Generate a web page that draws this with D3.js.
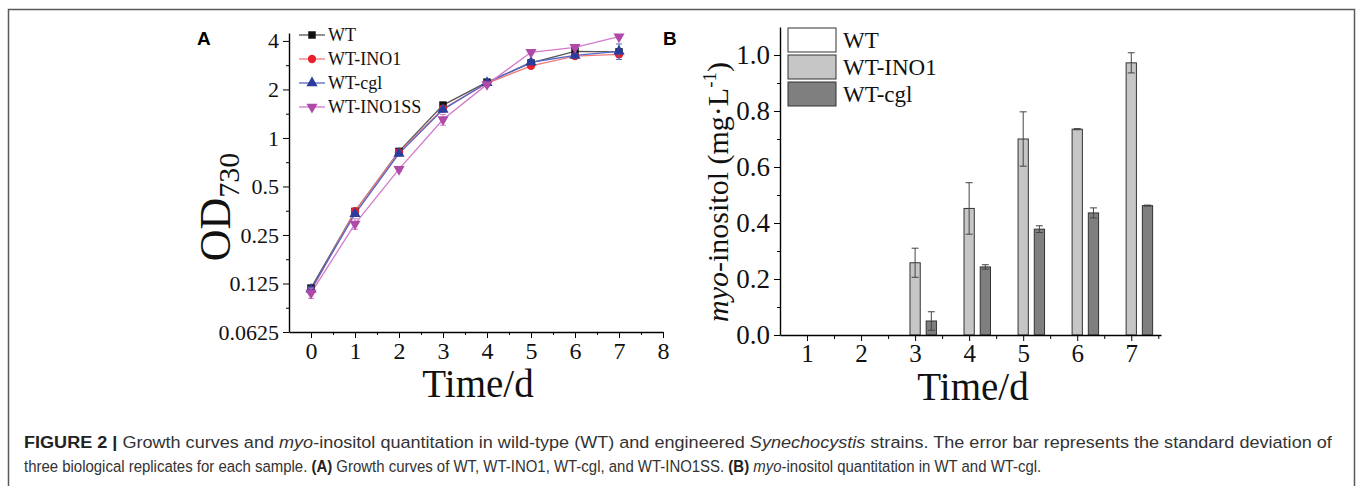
<!DOCTYPE html>
<html>
<head>
<meta charset="utf-8">
<script src="https://cdn.jsdelivr.net/npm/d3@7"></script>
<style>
  body { margin: 0; background: #fff; }
  svg text { font-family: "Liberation Serif", "Times New Roman", serif; }
</style>
</head>
<body>
<div id="plot"></div>
<script>
// figure size
const w = 1357;
const h = 486;

// ---- panel A data (OD730 growth curves) ----
const days = [0, 1, 2, 3, 4, 5, 6, 7];
const odWT = [0.117, 0.350, 0.825, 1.60, 2.22, 2.92, 3.45, 3.42];
const odINO1 = [0.112, 0.352, 0.815, 1.52, 2.18, 2.80, 3.22, 3.30];
const odCgl = [0.115, 0.338, 0.800, 1.50, 2.20, 2.95, 3.25, 3.45];
const odINO1SS = [0.109, 0.293, 0.640, 1.30, 2.15, 3.40, 3.65, 4.25];
const errWT = [0.004, 0.01, 0.02, 0.04, 0.04, 0.05, 0.05, 0.08];
const errINO1 = [0.005, 0.01, 0.02, 0.04, 0.04, 0.05, 0.05, 0.08];
const errCgl = [0.004, 0.01, 0.02, 0.04, 0.04, 0.05, 0.05, 0.38];
const errINO1SS = [0.008, 0.022, 0.02, 0.10, 0.05, 0.08, 0.08, 0.08];
const seriesA = ["WT", "WT-INO1", "WT-cgl", "WT-INO1SS"];
const odTicks = [0.0625, 0.125, 0.25, 0.5, 1, 2, 4];
const odTickLabels = ["0.0625", "0.125", "0.25", "0.5", "1", "2", "4"];
const dayTicks = [0, 1, 2, 3, 4, 5, 6, 7, 8];

// ---- panel B data (myo-inositol, mg/L) ----
const daysB = [1, 2, 3, 4, 5, 6, 7];
const inoWT = [0, 0, 0, 0, 0, 0, 0];
const inoINO1 = [0, 0, 0.258, 0.452, 0.700, 0.735, 0.972];
const inoCgl = [0, 0, 0.050, 0.243, 0.378, 0.436, 0.462];
const errInoWT = [0, 0, 0, 0, 0, 0, 0];
const errInoINO1 = [0, 0, 0.052, 0.092, 0.097, 0.002, 0.036];
const errInoCgl = [0, 0, 0.033, 0.008, 0.012, 0.018, 0.002];
const seriesB = ["WT", "WT-INO1", "WT-cgl"];
const inoTicks = [0, 0.2, 0.4, 0.6, 0.8, 1.0];

const svg = d3.select("#plot")
  .append("svg")
    .attr("width", w)
    .attr("height", h);

// outer frame
svg.append("rect")
    .attr("x", 8.5).attr("y", 9.5)
    .attr("width", 1346).attr("height", 520)
    .attr("fill", "none")
    .attr("stroke", "#5a5a5a")
    .attr("stroke-width", 1.5);

// ================= panel A =================
const xA = d3.scaleLinear().domain([-0.5, 8]).range([289, 663]);
const yA = d3.scaleLog().base(2).domain([0.0625, 4.48]).range([332, 33]);

const gA = svg.append("g");

// axes
const yAxisA = d3.axisLeft(yA)
    .tickValues(odTicks)
    .tickFormat((d, i) => odTickLabels[i])
    .tickSize(6).tickSizeOuter(0).tickPadding(4);
gA.append("g")
    .attr("transform", `translate(${xA(-0.5)},0)`)
    .call(yAxisA)
    .call(g => g.select(".domain").attr("stroke-width", 1.4))
    .call(g => g.selectAll("text").attr("font-size", 22).attr("fill", "#111"));
gA.append("g")
    .attr("transform", `translate(${xA(-0.5)},0)`)
    .call(d3.axisLeft(yA)
      .tickValues(odTicks.slice(0, -1).map(d => d * Math.SQRT2))
      .tickFormat("").tickSize(3).tickSizeOuter(0))
    .call(g => g.select(".domain").remove());

const xAxisA = d3.axisBottom(xA)
    .tickValues(dayTicks)
    .tickFormat(d3.format("d"))
    .tickSize(6).tickSizeOuter(0).tickPadding(4);
gA.append("g")
    .attr("transform", `translate(0,${yA(0.0625)})`)
    .call(xAxisA)
    .call(g => g.select(".domain").attr("stroke-width", 1.4))
    .call(g => g.selectAll("text").attr("font-size", 24).attr("fill", "#111"));
gA.append("g")
    .attr("transform", `translate(0,${yA(0.0625)})`)
    .call(d3.axisBottom(xA)
      .tickValues(d3.range(0.5, 8, 1))
      .tickFormat("").tickSize(3).tickSizeOuter(0))
    .call(g => g.select(".domain").remove());

// axis titles
const odLab = gA.append("text")
    .attr("transform", `translate(230,207) rotate(-90)`)
    .attr("text-anchor", "middle")
    .attr("font-size", 44)
    .attr("fill", "#111");
odLab.append("tspan").text("OD");
odLab.append("tspan").attr("font-size", 30).attr("dy", 9).text("730");

gA.append("text")
    .attr("x", 478).attr("y", 397)
    .attr("text-anchor", "middle")
    .attr("font-size", 39)
    .attr("fill", "#111")
    .text("Time/d");

gA.append("text")
    .attr("x", 197).attr("y", 45)
    .style("font-family", "Liberation Sans, Arial, sans-serif")
    .attr("font-weight", "bold")
    .attr("font-size", 19)
    .text("A");

// series
const styleA = {
  "WT": {line: "#555555", mark: "#111111", sym: d3.symbolSquare, size: 56, vals: odWT, err: errWT},
  "WT-INO1": {line: "#f07a7a", mark: "#e8202a", sym: d3.symbolCircle, size: 54, vals: odINO1, err: errINO1},
  "WT-cgl": {line: "#5566c8", mark: "#2a3d9e", sym: d3.symbolTriangle, size: 54, vals: odCgl, err: errCgl},
  "WT-INO1SS": {line: "#d27acb", mark: "#b04aa8", sym: d3.symbolTriangle, size: 54, flip: true, vals: odINO1SS, err: errINO1SS}
};

const lineA = d3.line().x((d, i) => xA(days[i])).y(d => yA(d));

seriesA.forEach(name => {
  const s = styleA[name];
  gA.append("path")
      .datum(s.vals)
      .attr("fill", "none")
      .attr("stroke", s.line)
      .attr("stroke-width", 1.3)
      .attr("d", lineA);
});

seriesA.forEach(name => {
  const s = styleA[name];
  const g = gA.append("g");
  // error bars
  const eb = g.selectAll("g.eb")
    .data(s.vals.map((v, i) => ({x: days[i], v: v, e: s.err[i]})))
    .enter().append("g")
      .attr("stroke", s.line)
      .attr("stroke-width", 1);
  eb.append("line")
      .attr("x1", d => xA(d.x)).attr("x2", d => xA(d.x))
      .attr("y1", d => yA(d.v + d.e)).attr("y2", d => yA(d.v - d.e));
  eb.append("line")
      .attr("x1", d => xA(d.x) - 3).attr("x2", d => xA(d.x) + 3)
      .attr("y1", d => yA(d.v + d.e)).attr("y2", d => yA(d.v + d.e));
  eb.append("line")
      .attr("x1", d => xA(d.x) - 3).attr("x2", d => xA(d.x) + 3)
      .attr("y1", d => yA(d.v - d.e)).attr("y2", d => yA(d.v - d.e));
  // markers
  g.selectAll("path.m")
    .data(s.vals)
    .enter().append("path")
      .attr("d", d3.symbol().type(s.sym).size(s.size))
      .attr("transform", (d, i) => `translate(${xA(days[i])},${yA(d)})${s.flip ? " rotate(180)" : ""}`)
      .attr("fill", s.mark);
});

// legend A
const legA = gA.append("g");
seriesA.forEach((name, i) => {
  const s = styleA[name];
  const yy = 35 + i * 24;
  legA.append("line")
      .attr("x1", 299).attr("x2", 325)
      .attr("y1", yy).attr("y2", yy)
      .attr("stroke", s.line).attr("stroke-width", 1.3);
  legA.append("path")
      .attr("d", d3.symbol().type(s.sym).size(s.size)())
      .attr("transform", `translate(312,${yy})${s.flip ? " rotate(180)" : ""}`)
      .attr("fill", s.mark);
  legA.append("text")
      .attr("x", 328).attr("y", yy + 6)
      .attr("font-size", 18)
      .attr("fill", "#111")
      .text(name);
});

// ================= panel B =================
const xB = d3.scaleLinear().domain([0.5, 7.55]).range([780, 1161]);
const yB = d3.scaleLinear().domain([0, 1.1]).range([335, 27]);
const gB = svg.append("g");

const fillB = {"WT": "#ffffff", "WT-INO1": "#c6c6c6", "WT-cgl": "#7f7f7f"};
const offB = {"WT": -0.3, "WT-INO1": 0, "WT-cgl": 0.3};
const valsB = {"WT": inoWT, "WT-INO1": inoINO1, "WT-cgl": inoCgl};
const errB = {"WT": errInoWT, "WT-INO1": errInoINO1, "WT-cgl": errInoCgl};
const bw = xB(0.69) - xB(0.5);

seriesB.forEach(name => {
  const data = valsB[name].map((v, i) => ({x: daysB[i] + offB[name], v: v, e: errB[name][i]}));
  gB.selectAll(null)
    .data(data)
    .enter().append("rect")
      .attr("x", d => xB(d.x) - bw / 2)
      .attr("y", d => yB(d.v))
      .attr("width", bw)
      .attr("height", d => yB(0) - yB(d.v))
      .attr("fill", fillB[name])
      .attr("stroke", "#333")
      .attr("stroke-width", 1);
  const eb = gB.selectAll(null)
    .data(data.filter(d => d.e > 0))
    .enter().append("g")
      .attr("stroke", "#444")
      .attr("stroke-width", 1);
  eb.append("line")
      .attr("x1", d => xB(d.x)).attr("x2", d => xB(d.x))
      .attr("y1", d => yB(d.v + d.e)).attr("y2", d => yB(Math.max(0, d.v - d.e)));
  eb.append("line")
      .attr("x1", d => xB(d.x) - 3.5).attr("x2", d => xB(d.x) + 3.5)
      .attr("y1", d => yB(d.v + d.e)).attr("y2", d => yB(d.v + d.e));
  eb.append("line")
      .attr("x1", d => xB(d.x) - 3.5).attr("x2", d => xB(d.x) + 3.5)
      .attr("y1", d => yB(Math.max(0, d.v - d.e))).attr("y2", d => yB(Math.max(0, d.v - d.e)));
});

// axes B
gB.append("g")
    .attr("transform", `translate(${xB(0.5)},0)`)
    .call(d3.axisLeft(yB).tickValues(inoTicks).tickFormat(d3.format(".1f"))
      .tickSize(6).tickSizeOuter(0).tickPadding(4))
    .call(g => g.select(".domain").attr("stroke-width", 1.4))
    .call(g => g.selectAll("text").attr("font-size", 27).attr("fill", "#111"));
gB.append("g")
    .attr("transform", `translate(${xB(0.5)},0)`)
    .call(d3.axisLeft(yB).tickValues(d3.range(0.1, 1.1, 0.2))
      .tickFormat("").tickSize(3).tickSizeOuter(0))
    .call(g => g.select(".domain").remove());
gB.append("g")
    .attr("transform", `translate(0,${yB(0)})`)
    .call(d3.axisBottom(xB).tickValues(daysB).tickFormat(d3.format("d"))
      .tickSize(6).tickSizeOuter(0).tickPadding(3))
    .call(g => g.select(".domain").attr("stroke-width", 1.4))
    .call(g => g.selectAll("text").attr("font-size", 25).attr("fill", "#111"));
gB.append("g")
    .attr("transform", `translate(0,${yB(0)})`)
    .call(d3.axisBottom(xB).tickValues(d3.range(1.5, 8, 1))
      .tickFormat("").tickSize(4).tickSizeOuter(0))
    .call(g => g.select(".domain").remove());

const inoLab = gB.append("text")
    .attr("transform", `translate(728,192) rotate(-90)`)
    .attr("text-anchor", "middle")
    .attr("font-size", 30)
    .attr("fill", "#111");
inoLab.append("tspan").attr("font-style", "italic").text("myo");
inoLab.append("tspan").text("-inositol (mg\u00b7L");
inoLab.append("tspan").attr("font-size", 19).attr("dy", -12).text("-1");
inoLab.append("tspan").attr("dy", 12).text(")");

gB.append("text")
    .attr("x", 973).attr("y", 400)
    .attr("text-anchor", "middle")
    .attr("font-size", 39)
    .attr("fill", "#111")
    .text("Time/d");

gB.append("text")
    .attr("x", 663).attr("y", 45)
    .style("font-family", "Liberation Sans, Arial, sans-serif")
    .attr("font-weight", "bold")
    .attr("font-size", 19)
    .text("B");

// legend B
seriesB.forEach((name, i) => {
  const yy = 28 + i * 27;
  gB.append("rect")
      .attr("x", 788).attr("y", yy)
      .attr("width", 48).attr("height", 24)
      .attr("fill", fillB[name])
      .attr("stroke", "#333").attr("stroke-width", 1);
  gB.append("text")
      .attr("x", 843).attr("y", yy + 20)
      .attr("font-size", 23)
      .attr("fill", "#111")
      .text(name);
});

// ================= caption =================
// each line is squeezed horizontally to the width it has in the figure
function captionLine(y, targetWidth, parts) {
  const g = svg.append("g");
  const t = g.append("text")
      .attr("x", 0).attr("y", 0)
      .attr("font-size", 17)
      .attr("fill", "#333")
      .style("font-family", "Liberation Sans, Arial, sans-serif");
  parts.forEach(p => {
    const ts = t.append("tspan").text(p[0]);
    if (p[1] === "b") ts.attr("font-weight", "bold").attr("fill", "#222");
    if (p[1] === "i") ts.attr("font-style", "italic");
  });
  const natural = t.node().getComputedTextLength();
  g.attr("transform", `translate(24,${y}) scale(${targetWidth / natural},1)`);
}

captionLine(448, 1309, [
  ["FIGURE 2 | ", "b"], ["Growth curves and "], ["myo", "i"],
  ["-inositol quantitation in wild-type (WT) and engineered "], ["Synechocystis", "i"],
  [" strains. The error bar represents the standard deviation of"]
]);
captionLine(472, 1018, [
  ["three biological replicates for each sample. "], ["(A)", "b"],
  [" Growth curves of WT, WT-INO1, WT-cgl, and WT-INO1SS. "], ["(B)", "b"], [" "],
  ["myo", "i"], ["-inositol quantitation in WT and WT-cgl."]
]);
</script>
</body>
</html>
